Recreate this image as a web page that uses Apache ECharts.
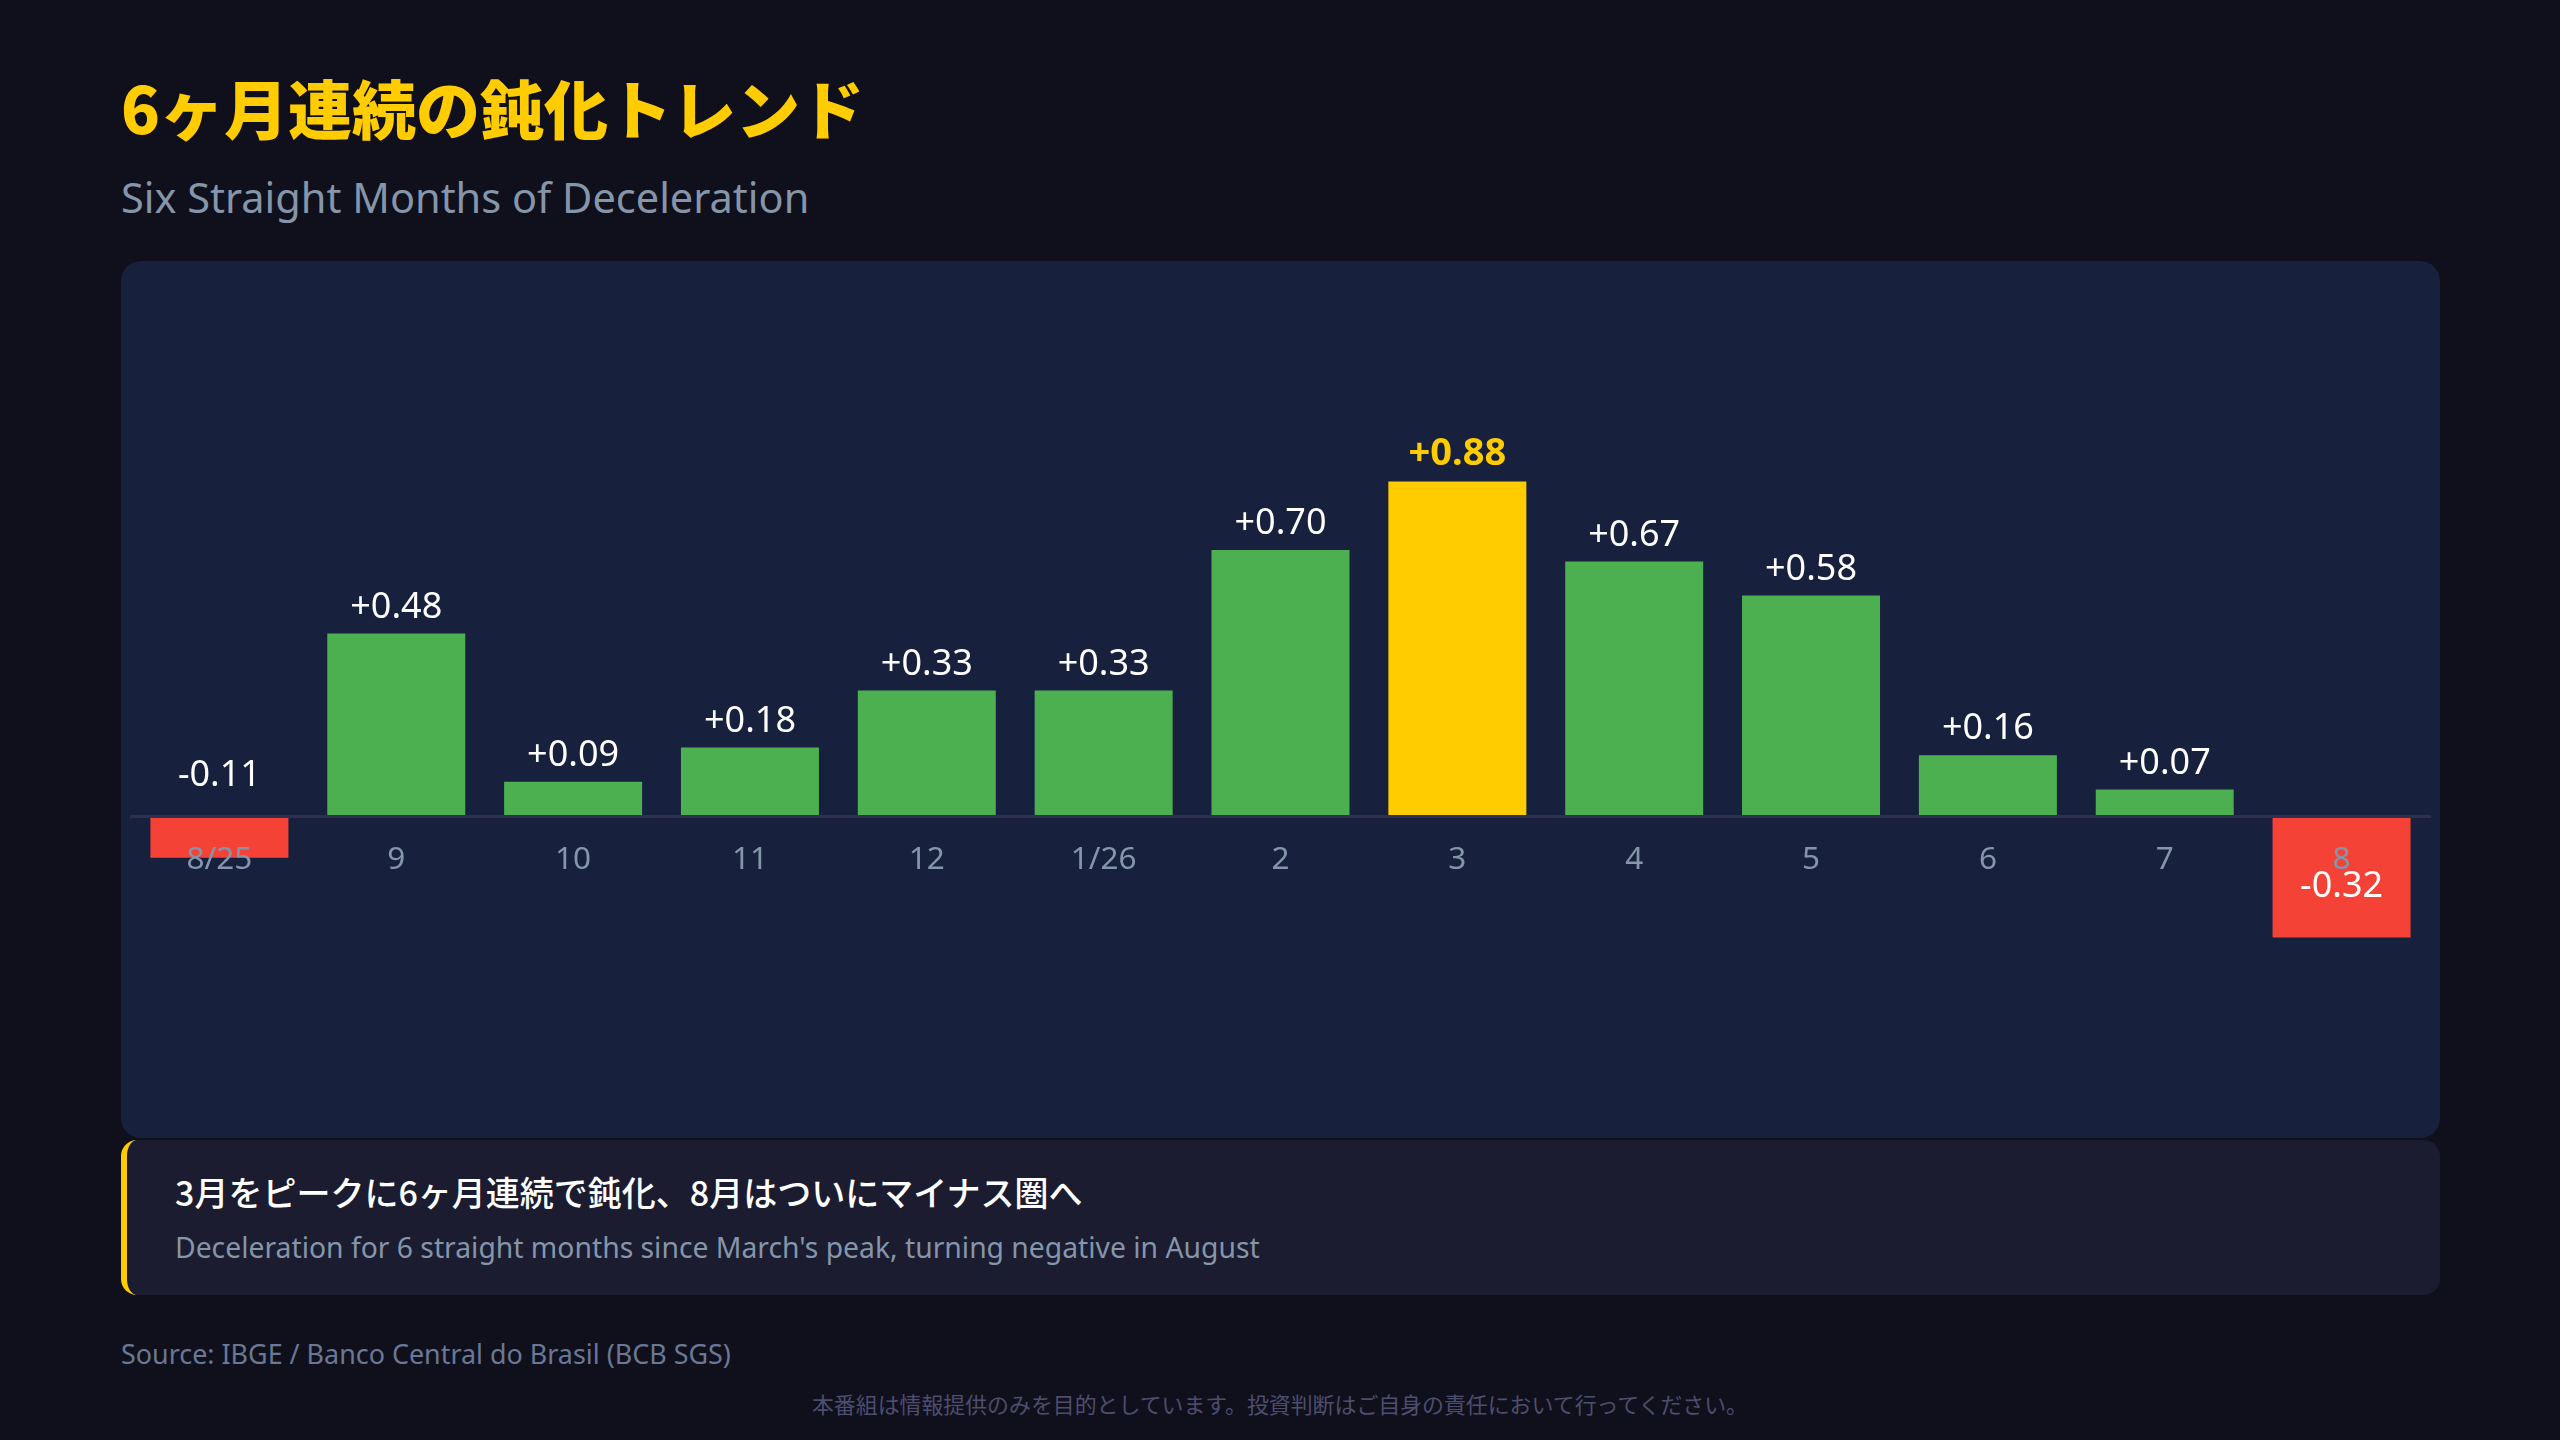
<!DOCTYPE html>
<html>
<head>
<meta charset="utf-8">
<script src="https://cdn.jsdelivr.net/npm/echarts@6/dist/echarts.min.js"></script>
<style>
  html, body { margin:0; padding:0; background:#10101c; width:2560px; height:1440px; overflow:hidden; }
  body { position:relative; font-family: "Noto Sans CJK JP", "Noto Sans", sans-serif; }
  #title { position:absolute; left:121px; top:66px; font-size:64px; font-weight:900; color:#FFCC00; line-height:80px; white-space:nowrap; }
  #subtitle { position:absolute; left:121px; top:170px; font-size:41.5px; color:#8595aa; line-height:54px; white-space:nowrap; font-family: "Noto Sans", "Noto Sans CJK JP", sans-serif; }
  #panel { position:absolute; left:121px; top:261px; width:2319px; height:877px; background:#17203d; border-radius:20px; }
  #chart { position:absolute; left:0; top:0; width:2319px; height:877px; }
  #callout { position:absolute; left:121px; top:1140px; width:2319px; height:155px; background:#1b1c30; border-radius:16px; border-left:6px solid #FFCC00; box-sizing:border-box; }
  #c1 { position:absolute; left:48px; top:29px; font-size:34px; color:#ffffff; line-height:46px; white-space:nowrap; font-weight:500; }
  #c2 { position:absolute; left:48px; top:87px; font-size:28.3px; color:#8595aa; line-height:40px; white-space:nowrap; font-family: "Noto Sans", "Noto Sans CJK JP", sans-serif; }
  #source { position:absolute; left:121px; top:1336px; font-size:26.9px; color:#6a7896; line-height:36px; white-space:nowrap; font-family: "Noto Sans", sans-serif; }
  #disc { position:absolute; left:0; width:2560px; text-align:center; top:1390px; font-size:21.9px; color:#4d4d6e; line-height:28px; white-space:nowrap; }
</style>
</head>
<body>
<div id="title">6ヶ月連続の鈍化トレンド</div>
<div id="subtitle">Six Straight Months of Deceleration</div>
<div id="panel"><div id="chart"></div></div>
<div id="callout">
  <div id="c1">3月をピークに6ヶ月連続で鈍化、8月はついにマイナス圏へ</div>
  <div id="c2">Deceleration for 6 straight months since March's peak, turning negative in August</div>
</div>
<div id="source">Source: IBGE / Banco Central do Brasil (BCB SGS)</div>
<div id="disc">本番組は情報提供のみを目的としています。投資判断はご自身の責任において行ってください。</div>
<script>
const categories = ['8/25','9','10','11','12','1/26','2','3','4','5','6','7','8'];
const values = [-0.11, 0.48, 0.09, 0.18, 0.33, 0.33, 0.70, 0.88, 0.67, 0.58, 0.16, 0.07, -0.32];
const peakIndex = 7;

const GREEN = '#4CAF50', RED = '#F44336', YELLOW = '#FFCC00';
const fmt = v => (v > 0 ? '+' : '') + v.toFixed(2);

const data = values.map((v, i) => {
  const isPeak = i === peakIndex;
  const item = {
    value: v,
    itemStyle: { color: isPeak ? YELLOW : (v < 0 ? RED : GREEN) },
    label: {
      show: true,
      position: 'top',
      distance: 8,
      formatter: fmt(v),
      color: isPeak ? YELLOW : '#ffffff',
      fontWeight: isPeak ? 'bold' : 'normal',
      fontSize: isPeak ? 38 : 36
    }
  };
  if (v < 0 && v > -0.2) { item.label.position = 'top'; item.label.distance = 22; }
  if (v <= -0.2) { item.label.position = 'inside'; item.label.offset = [0, 10]; }
  return item;
});

const chart = echarts.init(document.getElementById('chart'), null, { renderer: 'canvas' });
chart.setOption({
  backgroundColor: 'transparent',
  textStyle: { fontFamily: '"Noto Sans", "Noto Sans CJK JP", sans-serif' },
  animation: false,
  grid: { left: 10, right: 10, top: 99, bottom: 94, containLabel: false },
  xAxis: {
    type: 'category',
    data: categories,
    z: 10,
    axisLine: { show: true, onZero: true, lineStyle: { color: '#2f2f52', width: 3 } },
    axisTick: { show: false },
    axisLabel: { color: '#8595aa', fontSize: 31.5, margin: -200, interval: 0 }
  },
  yAxis: {
    type: 'value',
    min: -0.6,
    max: 1.2,
    show: false,
    splitLine: { show: false }
  },
  series: [{
    type: 'bar',
    data: data,
    barWidth: 138
  }]
});
</script>
</body>
</html>
